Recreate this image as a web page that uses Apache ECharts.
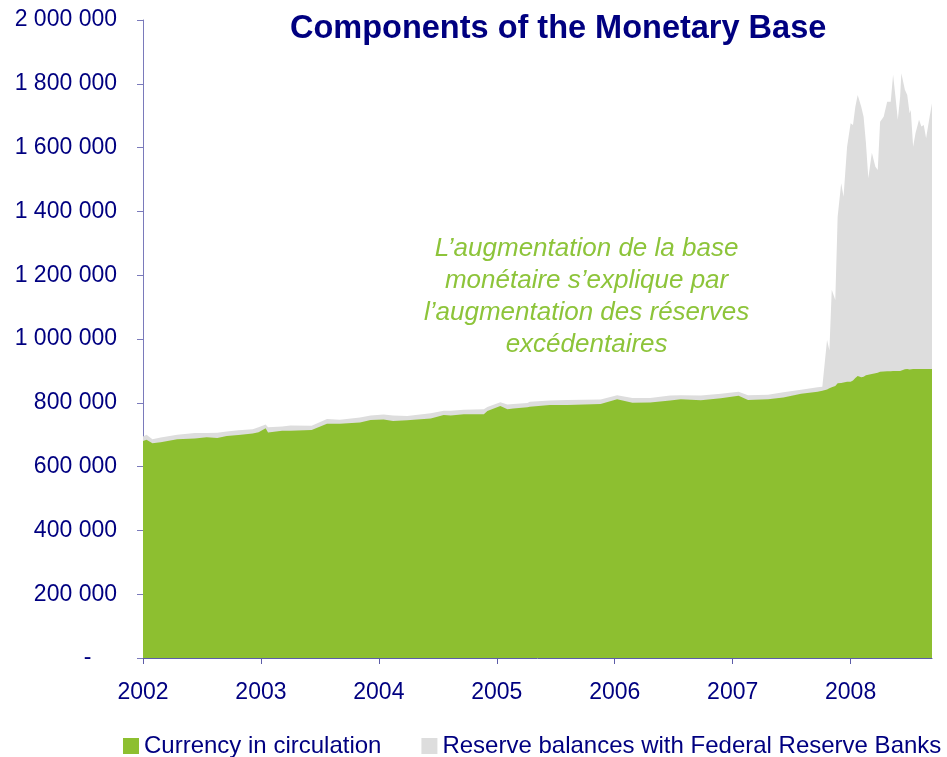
<!DOCTYPE html>
<html>
<head>
<meta charset="utf-8">
<title>Components of the Monetary Base</title>
<script src="https://cdn.jsdelivr.net/npm/echarts@6/dist/echarts.min.js"></script>
<style>
    html, body { margin: 0; padding: 0; background: #fff; }
    #chart { width: 947px; height: 757px; }
</style>
</head>
<body>
<div id="chart"></div>
<script>
    // weekly-ish observations, x as decimal year
    var dates = [
        2002.00, 2002.03, 2002.08, 2002.15, 2002.29, 2002.44, 2002.54, 2002.63, 2002.71, 2002.81,
        2002.93, 2002.98, 2003.04, 2003.06, 2003.18, 2003.25, 2003.43, 2003.44, 2003.56, 2003.67,
        2003.84, 2003.93, 2004.04, 2004.12, 2004.24, 2004.44, 2004.55, 2004.61, 2004.72, 2004.89,
        2004.92, 2005.03, 2005.09, 2005.14, 2005.26, 2005.28, 2005.45, 2005.60, 2005.88, 2006.02,
        2006.15, 2006.30, 2006.47, 2006.56, 2006.73, 2006.90, 2007.05, 2007.13, 2007.30, 2007.43,
        2007.58, 2007.72,
        2007.76, 2007.80, 2007.82, 2007.84, 2007.87, 2007.89, 2007.92, 2007.94, 2007.97, 2008.00,
        2008.02, 2008.04, 2008.06, 2008.09, 2008.11, 2008.13, 2008.15, 2008.18, 2008.21, 2008.23,
        2008.25, 2008.28, 2008.31, 2008.34, 2008.36, 2008.38, 2008.40, 2008.42, 2008.43, 2008.46,
        2008.48, 2008.50, 2008.51, 2008.53, 2008.55, 2008.58, 2008.60, 2008.62, 2008.64, 2008.67,
        2008.69
    ];

    // thousands
    var currency = [
        680, 684, 673, 676, 686, 688, 692, 690, 696, 699,
        704, 708, 720, 707, 712, 712, 715, 720, 734, 734,
        738, 746, 748, 743, 745, 751, 762, 760, 764, 764,
        774, 790, 780, 782, 786, 788, 793, 793, 796, 811,
        800, 801, 807, 811, 808, 814, 822, 809, 811, 817,
        828, 835,
        838, 842, 846, 849, 853, 861, 862, 864, 866, 866,
        870, 878, 884, 880, 882, 886, 888, 890, 893, 894,
        897, 898, 899, 899, 900, 900, 900, 900, 902, 905,
        906, 904, 905, 906, 906, 906, 906, 906, 906, 906,
        906
    ];

    // thousands
    var reserves = [
        14, 16, 13, 15, 14, 17, 13, 16, 14, 15,
        13, 15, 12, 16, 14, 17, 13, 14, 15, 13,
        16, 14, 15, 17, 14, 16, 13, 15, 14, 16,
        13, 12, 15, 14, 13, 15, 14, 16, 14, 13,
        15, 14, 16, 13, 15, 14, 13, 15, 14, 16,
        13, 14,
        12, 155, 119, 305, 269, 522, 626, 582, 737, 810,
        801, 850, 881, 848, 815, 728, 616, 694, 647, 636,
        784, 799, 845, 845, 928, 860, 787, 860, 931, 876,
        859, 804, 813, 697, 739, 781, 760, 765, 723, 791,
        833
    ];

    var yearTicks = [2002, 2003, 2004, 2005, 2006, 2007, 2008];
    var seriesNames = ['Currency in circulation', 'Reserve balances with Federal Reserve Banks'];
    var noteLines = [
        'L\u2019augmentation de la base',
        'mon\u00e9taire s\u2019explique par',
        'l\u2019augmentation des r\u00e9serves',
        'exc\u00e9dentaires'
    ];

    var navy = '#000080';
    var font = 'Liberation Sans, Arial, sans-serif';

    // currency on the bottom, reserves stacked on top of it
    var currencyData = currency.map(function (v, i) { return [dates[i], v * 1000]; });
    var totalData = currency.map(function (v, i) { return [dates[i], (v + reserves[i]) * 1000]; });

    function fmtY(v) {
        if (v === 0) return '-    ';
        return String(v).replace(/\B(?=(\d{3})+(?!\d))/g, ' ');
    }

    var chart = echarts.init(document.getElementById('chart'));
    chart.setOption({
        backgroundColor: '#fff',
        animation: false,
        title: {
            text: 'Components of the Monetary Base',
            left: 285,
            top: 8,
            textStyle: { color: navy, fontSize: 32.5, fontWeight: 'bold', fontFamily: font }
        },
        grid: { left: 143, right: 15, top: 20, bottom: 99 },
        legend: {
            data: seriesNames,
            left: 118,
            top: 729,
            icon: 'rect',
            itemWidth: 16,
            itemHeight: 16,
            itemGap: 40,
            textStyle: { color: navy, fontSize: 24, fontFamily: font }
        },
        xAxis: {
            type: 'value',
            min: 2002,
            max: 2008.69,
            interval: 1,
            splitLine: { show: false },
            axisLine: { lineStyle: { color: '#5c5ca8', width: 1 } },
            axisTick: { show: true, length: 6, customValues: yearTicks, lineStyle: { color: '#5c5ca8' } },
            axisLabel: {
                customValues: yearTicks,
                margin: 23,
                color: navy,
                fontSize: 23,
                fontFamily: font,
                formatter: function (v) { return String(Math.round(v)); }
            }
        },
        yAxis: {
            type: 'value',
            min: 0,
            max: 2000000,
            interval: 200000,
            splitLine: { show: false },
            axisLine: { show: true, lineStyle: { color: '#7a7abb', width: 1 } },
            axisTick: { show: true, length: 6, lineStyle: { color: '#7a7abb' } },
            axisLabel: {
                margin: 26,
                color: navy,
                fontSize: 23,
                fontFamily: font,
                formatter: fmtY
            }
        },
        graphic: [
            {
                type: 'text',
                left: 424,
                top: 233,
                style: {
                    text: noteLines.join('\n'),
                    textAlign: 'center',
                    fill: '#8dc43a',
                    font: 'italic 26px Liberation Sans, Arial, sans-serif',
                    lineHeight: 32
                }
            }
        ],
        series: [
            {
                name: seriesNames[1],
                type: 'line',
                symbol: 'none',
                z: 2,
                lineStyle: { width: 0 },
                areaStyle: { color: '#dddddd', opacity: 1 },
                itemStyle: { color: '#dddddd' },
                data: totalData
            },
            {
                name: seriesNames[0],
                type: 'line',
                symbol: 'none',
                z: 3,
                lineStyle: { width: 0 },
                areaStyle: { color: '#8dbf30', opacity: 1 },
                itemStyle: { color: '#8dbf30' },
                data: currencyData
            }
        ]
    });
</script>
</body>
</html>
